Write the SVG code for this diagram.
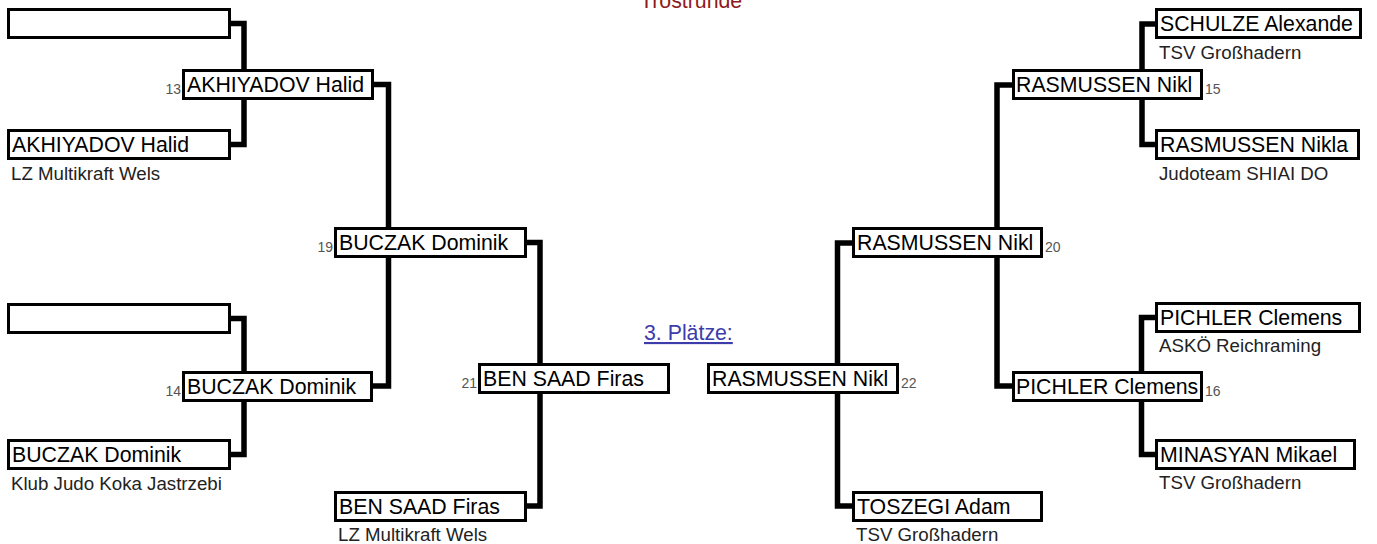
<svg xmlns="http://www.w3.org/2000/svg" width="1377" height="544" viewBox="0 0 1377 544">
<style>
.box{fill:#fff;stroke:#000;stroke-width:3}
.name{font-family:"Liberation Sans",Arial,sans-serif;font-size:21.3px;fill:#000}
.club{font-family:"Liberation Sans",Arial,sans-serif;font-size:18.7px;fill:#222}
.num{font-family:"Liberation Sans",Arial,sans-serif;font-size:14px;fill:#555}
.conn{fill:none;stroke:#000;stroke-width:5.5;stroke-linejoin:miter}
.title{font-family:"Liberation Sans",Arial,sans-serif;font-size:21.3px;fill:#8e1b1b}
.link{font-family:"Liberation Sans",Arial,sans-serif;font-size:21.3px;fill:#3c3caa;text-decoration:underline}
</style>
<rect width="1377" height="544" fill="#fff"/>
<text class="title" x="640" y="8">Trostrunde</text>
<text class="link" x="644" y="340">3. Plätze:</text>
<g id="connectors">
<path class="conn" d="M231 23.5 H244 V144.5 H231"/>
<path class="conn" d="M374 84.5 H388.5 V386 H373"/>
<path class="conn" d="M527 242.5 H540 V506 H527"/>
<path class="conn" d="M231 318.5 H244 V454.5 H231"/>
<path class="conn" d="M1155 24 H1142 V144.5 H1155"/>
<path class="conn" d="M1012 85 H997 V386 H1012"/>
<path class="conn" d="M852 243 H837.5 V506 H852"/>
<path class="conn" d="M1155 317.5 H1141.5 V454.5 H1155"/>
</g>
<g id="L1"><rect class="box" x="8.5" y="9.5" width="221" height="28"/></g>
<g id="L2"><rect class="box" x="183.5" y="70.5" width="189" height="28"/><text class="name" x="187" y="91.5">AKHIYADOV Halid</text><text class="num" x="181" y="94" text-anchor="end">13</text></g>
<g id="L3"><rect class="box" x="8.5" y="130.5" width="221" height="28"/><text class="name" x="12" y="151.5">AKHIYADOV Halid</text><text class="club" x="11" y="180">LZ Multikraft Wels</text></g>
<g id="M19"><rect class="box" x="335.5" y="228.5" width="190" height="28"/><text class="name" x="339" y="249.5">BUCZAK Dominik</text><text class="num" x="333" y="252" text-anchor="end">19</text></g>
<g id="L5"><rect class="box" x="8.5" y="304.5" width="221" height="28"/></g>
<g id="M21"><rect class="box" x="479.5" y="364.5" width="189" height="28"/><text class="name" x="483" y="385.5">BEN SAAD Firas</text><text class="num" x="477" y="388" text-anchor="end">21</text></g>
<g id="M14"><rect class="box" x="183.5" y="372.5" width="188" height="28"/><text class="name" x="187" y="393.5">BUCZAK Dominik</text><text class="num" x="181" y="396" text-anchor="end">14</text></g>
<g id="L6"><rect class="box" x="8.5" y="440.5" width="221" height="28"/><text class="name" x="12" y="461.5">BUCZAK Dominik</text><text class="club" x="11" y="490">Klub Judo Koka Jastrzebi</text></g>
<g id="BEN"><rect class="box" x="335.5" y="492.5" width="190" height="28"/><text class="name" x="339" y="513.5">BEN SAAD Firas</text><text class="club" x="338" y="541">LZ Multikraft Wels</text></g>
<g id="M22"><rect class="box" x="708.5" y="364.5" width="189" height="28"/><text class="name" x="712" y="385.5">RASMUSSEN Nikl</text><text class="num" x="901" y="388">22</text></g>
<g id="M20"><rect class="box" x="853.5" y="228.5" width="188" height="28"/><text class="name" x="857" y="249.5">RASMUSSEN Nikl</text><text class="num" x="1045" y="252">20</text></g>
<g id="TOS"><rect class="box" x="853.5" y="492.5" width="188" height="28"/><text class="name" x="857" y="513.5">TOSZEGI Adam</text><text class="club" x="856" y="541">TSV Großhadern</text></g>
<g id="R1"><rect class="box" x="1156.5" y="9.5" width="204" height="28"/><text class="name" x="1160" y="30.5">SCHULZE Alexande</text><text class="club" x="1159" y="59">TSV Großhadern</text></g>
<g id="R2"><rect class="box" x="1013.5" y="70.5" width="188" height="28"/><text class="name" x="1016" y="91.5">RASMUSSEN Nikl</text><text class="num" x="1205" y="94">15</text></g>
<g id="R3"><rect class="box" x="1156.5" y="130.5" width="202" height="28"/><text class="name" x="1160" y="151.5">RASMUSSEN Nikla</text><text class="club" x="1159" y="180">Judoteam SHIAI DO</text></g>
<g id="R5"><rect class="box" x="1156.5" y="303.5" width="203" height="28"/><text class="name" x="1160" y="324.5">PICHLER Clemens</text><text class="club" x="1159" y="352">ASKÖ Reichraming</text></g>
<g id="M16"><rect class="box" x="1013.5" y="372.5" width="188" height="28"/><text class="name" x="1016" y="393.5">PICHLER Clemens</text><text class="num" x="1205" y="396">16</text></g>
<g id="R6"><rect class="box" x="1156.5" y="440.5" width="198" height="28"/><text class="name" x="1160" y="461.5">MINASYAN Mikael</text><text class="club" x="1159" y="489">TSV Großhadern</text></g>
</svg>
